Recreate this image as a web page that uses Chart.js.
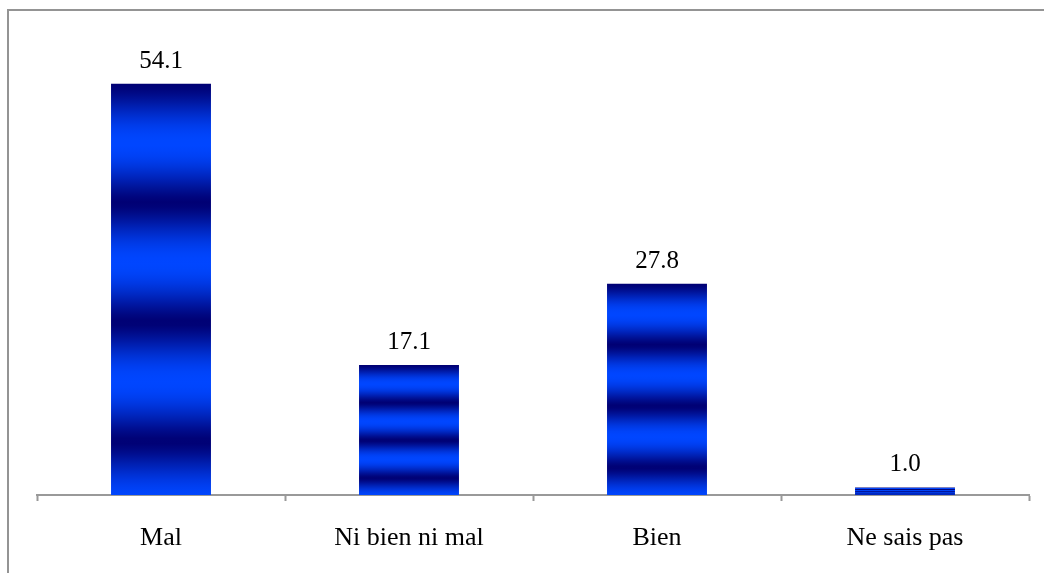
<!DOCTYPE html>
<html>
<head>
<meta charset="utf-8">
<script src="https://cdn.jsdelivr.net/npm/chart.js@4.4.1/dist/chart.umd.min.js"></script>
<style>
  html, body { margin: 0; padding: 0; background: #ffffff; }
  #wrap { width: 1044px; height: 573px; position: relative; }
</style>
</head>
<body>
<div id="wrap"><canvas id="chart" width="1044" height="573"></canvas></div>
<script>
// Response categories and percentages
const categories = ['Mal', 'Ni bien ni mal', 'Bien', 'Ne sais pas'];
const percentages = [54.1, 17.1, 27.8, 1.0];

const FONT = '"Liberation Serif", "Times New Roman", serif';
const DARK = [0, 0, 115];
const BRIGHT = [0, 70, 255];
const CYCLES = 3.45;

// Banded vertical fill: dark at the top of each bar, repeating light/dark bands
function bandedFill(context) {
  const chart = context.chart;
  const y = chart.scales.y;
  if (!y || context.dataIndex === undefined) return 'rgb(0,40,200)';
  const v = context.dataset.data[context.dataIndex];
  const top = y.getPixelForValue(v);
  const base = y.getPixelForValue(0);
  if (!isFinite(top) || !isFinite(base) || base - top < 1) return 'rgb(0,40,200)';
  const g = chart.ctx.createLinearGradient(0, top, 0, base);
  const steps = 80;
  for (let i = 0; i <= steps; i++) {
    const t = i / steps;
    const k = Math.pow((1 - Math.cos(2 * Math.PI * CYCLES * t)) / 2, 0.7);
    const c = DARK.map((d, j) => Math.round(d + (BRIGHT[j] - d) * k));
    g.addColorStop(t, `rgb(${c[0]},${c[1]},${c[2]})`);
  }
  return g;
}

// Value labels above the bars
const valueLabels = {
  id: 'valueLabels',
  afterDatasetsDraw(chart) {
    const ctx = chart.ctx;
    const meta = chart.getDatasetMeta(0);
    ctx.save();
    ctx.fillStyle = '#000000';
    ctx.font = '25px ' + FONT;
    ctx.textAlign = 'center';
    ctx.textBaseline = 'alphabetic';
    meta.data.forEach((bar, i) => {
      ctx.fillText(percentages[i].toFixed(1), bar.x, bar.y - 16);
    });
    ctx.restore();
  }
};

// Outer chart frame
const frame = {
  id: 'frame',
  beforeDraw(chart) {
    const ctx = chart.ctx;
    ctx.save();
    ctx.fillStyle = '#ffffff';
    ctx.fillRect(0, 0, chart.width, chart.height);
    ctx.strokeStyle = '#949494';
    ctx.lineWidth = 2;
    ctx.strokeRect(8, 10, chart.width + 20, chart.height + 20);
    ctx.restore();
  }
};

new Chart(document.getElementById('chart'), {
  type: 'bar',
  data: {
    labels: categories,
    datasets: [{
      data: percentages,
      backgroundColor: bandedFill,
      borderWidth: 0,
      barPercentage: 0.403,
      categoryPercentage: 1.0
    }]
  },
  options: {
    responsive: false,
    animation: false,
    devicePixelRatio: 1,
    layout: { padding: { left: 37, right: 15, top: 39, bottom: 0 } },
    plugins: {
      legend: { display: false },
      tooltip: { enabled: false }
    },
    scales: {
      x: {
        offset: true,
        afterFit(scale) { scale.height = 78; },
        grid: {
          offset: true,
          drawOnChartArea: false,
          drawTicks: true,
          tickLength: 6,
          tickWidth: 2,
          tickColor: '#999999'
        },
        border: { display: true, color: '#999999', width: 2 },
        ticks: {
          color: '#000000',
          padding: 22,
          font: { family: FONT, size: 26 }
        }
      },
      y: {
        display: false,
        min: 0,
        max: 60
      }
    }
  },
  plugins: [frame, valueLabels]
});
</script>
</body>
</html>
